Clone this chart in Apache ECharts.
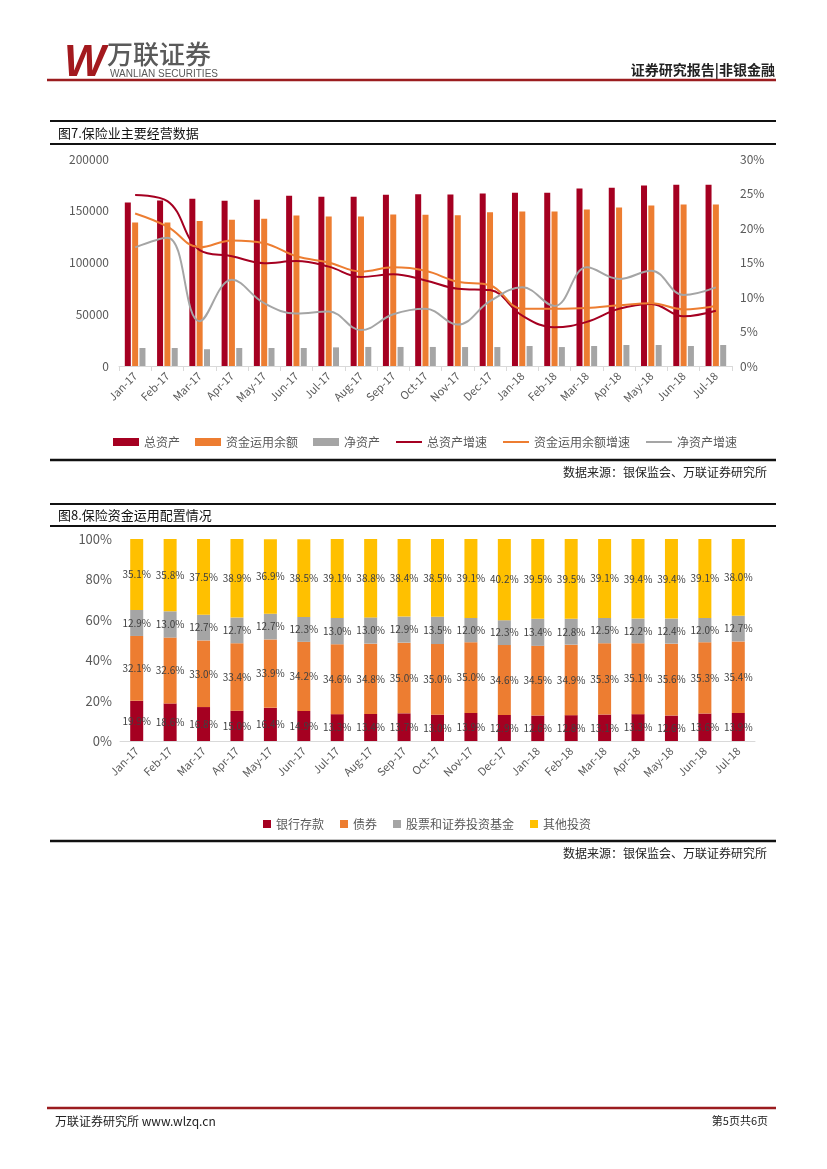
<!DOCTYPE html>
<html><head><meta charset="utf-8">
<script src="https://cdn.jsdelivr.net/npm/echarts@6/dist/echarts.min.js"></script>
<style>html,body{margin:0;padding:0;background:#fff}#c{width:827px;height:1169px}</style>
</head><body><div id="c"></div>
<script>
// ---------- data ----------
const months = ['Jan-17','Feb-17','Mar-17','Apr-17','May-17','Jun-17','Jul-17','Aug-17','Sep-17','Oct-17','Nov-17','Dec-17','Jan-18','Feb-18','Mar-18','Apr-18','May-18','Jun-18','Jul-18'];
// Figure 7 (亿元 / %)
const totalAssets = [158000,160000,161600,159600,160600,164500,163500,163500,165400,166000,165600,166600,167500,167500,171400,172300,174300,175200,175200];
const fundBalance = [138600,138600,140200,141200,142200,145400,144400,144400,146400,146200,145700,148600,149200,149200,151100,153100,155000,156000,156000];
const netAssets = [17400,17400,16200,17400,17400,17400,18000,18400,18400,18400,18300,18300,19300,18300,19300,20300,20300,19300,20300];
const totalAssetsGrowth = [24.8,23.9,16.8,15.9,14.9,15.2,14.4,12.9,13.3,12.4,11.2,11.0,7.3,5.6,6.4,8.3,9.0,7.2,8.0];
const fundBalanceGrowth = [22.1,20.2,17.2,18.2,17.8,15.9,15.0,13.7,14.3,13.8,12.2,11.7,8.3,8.3,8.4,8.8,9.1,8.2,8.7];
const netAssetsGrowth = [17.2,18.6,6.5,12.5,9.1,7.6,7.9,5.2,7.5,8.3,6.0,9.4,11.4,8.7,14.3,12.6,13.8,10.3,11.4];
// Figure 8 (%)
const bankDeposits = [19.9,18.6,16.8,15.0,16.4,14.9,13.3,13.4,13.7,13.0,13.9,12.9,12.6,12.8,13.1,13.3,12.6,13.6,13.9];
const bonds = [32.1,32.6,33.0,33.4,33.9,34.2,34.6,34.8,35.0,35.0,35.0,34.6,34.5,34.9,35.3,35.1,35.6,35.3,35.4];
const stocksFunds = [12.9,13.0,12.7,12.7,12.7,12.3,13.0,13.0,12.9,13.5,12.0,12.3,13.4,12.8,12.5,12.2,12.4,12.0,12.7];
const otherInvest = [35.1,35.8,37.5,38.9,36.9,38.5,39.1,38.8,38.4,38.5,39.1,40.2,39.5,39.5,39.1,39.4,39.4,39.1,38.0];
const leftTicks = {min:0,max:200000,interval:50000};
const rightTicks = {min:0,max:30,interval:5};
const pctTicks = {min:0,max:100,interval:20};

// ---------- styles ----------
const C_RED='#A50021', C_ORA='#ED7D31', C_GRY='#A5A5A5', C_YEL='#FFC000';
const FONT='"Noto Sans CJK SC","Noto Sans",sans-serif';
const AX='#595959';

const chart = echarts.init(document.getElementById('c'), null, {renderer:'canvas'});

function hline(y, x1, x2, w, col){return {type:'line',shape:{x1:x1,y1:y,x2:x2,y2:y},style:{stroke:col,lineWidth:w},silent:true};}
function txt(x,y,t,font,fill,align){return {type:'text',x:x,y:y,style:{text:t,font:font,fill:fill,textAlign:align||'left',textVerticalAlign:'middle'},silent:true};}

const xBase = (gi)=>({
  type:'category', gridIndex:gi, data:months, boundaryGap:true,
  axisLine:{show:true,lineStyle:{color:'#D9D9D9'}},
  axisTick:{show:gi===0,alignWithLabel:false,lineStyle:{color:'#D9D9D9'}},
  axisLabel:{rotate:45,color:AX,fontSize:11,fontFamily:FONT,margin:8,interval:0}
});

const pctLabel = {show:true,position:'inside',color:'#404040',fontSize:10,fontFamily:FONT,formatter:p=>p.value.toFixed(1)+'%'};

const option = {
  animation:false,
  backgroundColor:'#fff',
  textStyle:{fontFamily:FONT},
  grid:[
    {left:119,right:95,top:159,height:207,containLabel:false},
    {left:120,right:72,top:539,height:202,containLabel:false}
  ],
  xAxis:[xBase(0), xBase(1)],
  yAxis:[
    {type:'value',gridIndex:0,min:leftTicks.min,max:leftTicks.max,interval:leftTicks.interval,
     axisLine:{show:false},axisTick:{show:false},splitLine:{show:false},
     axisLabel:{color:AX,fontSize:12,fontFamily:FONT,margin:10,formatter:v=>String(v)}},
    {type:'value',gridIndex:0,position:'right',min:rightTicks.min,max:rightTicks.max,interval:rightTicks.interval,
     axisLine:{show:false},axisTick:{show:false},splitLine:{show:false},
     axisLabel:{color:AX,fontSize:12,fontFamily:FONT,margin:8,formatter:'{value}%'}},
    {type:'value',gridIndex:1,min:pctTicks.min,max:pctTicks.max,interval:pctTicks.interval,
     axisLine:{show:false},axisTick:{show:false},splitLine:{show:false},
     axisLabel:{color:AX,fontSize:13,fontFamily:FONT,margin:8,formatter:'{value}%'}}
  ],
  legend:[
    {left:108,top:431,itemWidth:26,itemHeight:8,itemGap:15,
     textStyle:{color:AX,fontSize:12,fontFamily:FONT},
     data:[{name:'总资产',icon:'rect'},{name:'资金运用余额',icon:'rect'},{name:'净资产',icon:'rect'},
           {name:'总资产增速',itemStyle:{opacity:0}},{name:'资金运用余额增速',itemStyle:{opacity:0}},{name:'净资产增速',itemStyle:{opacity:0}}]},
    {left:258,top:813,itemWidth:8,itemHeight:8,itemGap:16,
     textStyle:{color:AX,fontSize:12,fontFamily:FONT},
     data:[{name:'银行存款',icon:'rect'},{name:'债券',icon:'rect'},{name:'股票和证券投资基金',icon:'rect'},{name:'其他投资',icon:'rect'}]}
  ],
  series:[
    {name:'总资产',type:'bar',xAxisIndex:0,yAxisIndex:0,data:totalAssets,barWidth:6,barGap:'22%',itemStyle:{color:C_RED}},
    {name:'资金运用余额',type:'bar',xAxisIndex:0,yAxisIndex:0,data:fundBalance,barWidth:6,barGap:'22%',itemStyle:{color:C_ORA}},
    {name:'净资产',type:'bar',xAxisIndex:0,yAxisIndex:0,data:netAssets,barWidth:6,barGap:'22%',itemStyle:{color:C_GRY}},
    {name:'总资产增速',type:'line',xAxisIndex:0,yAxisIndex:1,data:totalAssetsGrowth,smooth:0.4,symbol:'none',lineStyle:{color:C_RED,width:2},itemStyle:{color:C_RED}},
    {name:'资金运用余额增速',type:'line',xAxisIndex:0,yAxisIndex:1,data:fundBalanceGrowth,smooth:0.4,symbol:'none',lineStyle:{color:C_ORA,width:2},itemStyle:{color:C_ORA}},
    {name:'净资产增速',type:'line',xAxisIndex:0,yAxisIndex:1,data:netAssetsGrowth,smooth:0.4,symbol:'none',lineStyle:{color:C_GRY,width:2},itemStyle:{color:C_GRY}},
    {name:'银行存款',type:'bar',xAxisIndex:1,yAxisIndex:2,stack:'alloc',data:bankDeposits,barWidth:13,itemStyle:{color:C_RED},label:pctLabel},
    {name:'债券',type:'bar',xAxisIndex:1,yAxisIndex:2,stack:'alloc',data:bonds,barWidth:13,itemStyle:{color:C_ORA},label:pctLabel},
    {name:'股票和证券投资基金',type:'bar',xAxisIndex:1,yAxisIndex:2,stack:'alloc',data:stocksFunds,barWidth:13,itemStyle:{color:C_GRY},label:pctLabel},
    {name:'其他投资',type:'bar',xAxisIndex:1,yAxisIndex:2,stack:'alloc',data:otherInvest,barWidth:13,itemStyle:{color:C_YEL},label:pctLabel}
  ],
  graphic:[
    // header
    {type:'text',x:64,y:42,style:{text:'W',font:'italic bold 44px "Liberation Sans"',fill:'#A3191E'},silent:true},
    {type:'text',x:107,y:41,style:{text:'万联证券',font:'500 26px '+FONT,fill:'#5A5A5A'},silent:true},
    {type:'text',x:110,y:69,style:{text:'WANLIAN SECURITIES',font:'10px "Liberation Sans"',fill:'#5A5A5A'},silent:true},
    txt(775,70,'证券研究报告|非银金融','bold 14px '+FONT,'#222','right'),
    hline(80,47,776,2.5,'#9B1C1F'),
    // figure 7 frame
    hline(121,50,776,2,'#111'),
    txt(58,133,'图7.保险业主要经营数据','13px '+FONT,'#111'),
    hline(144,50,776,2,'#111'),
    hline(460,50,776,2.5,'#111'),
    txt(767,472,'数据来源：银保监会、万联证券研究所','12px '+FONT,'#222','right'),
    // figure 8 frame
    hline(504,50,776,2,'#111'),
    txt(58,515,'图8.保险资金运用配置情况','13px '+FONT,'#111'),
    hline(526,50,776,2,'#111'),
    hline(841,50,776,2.5,'#111'),
    txt(767,853,'数据来源：银保监会、万联证券研究所','12px '+FONT,'#222','right'),
    // footer
    hline(1108,47,776,2.5,'#9B1C1F'),
    txt(55,1121,'万联证券研究所 www.wlzq.cn','12px '+FONT,'#222'),
    txt(768,1121,'第5页共6页','11px '+FONT,'#222','right')
  ]
};
chart.setOption(option);
</script>
</body></html>
